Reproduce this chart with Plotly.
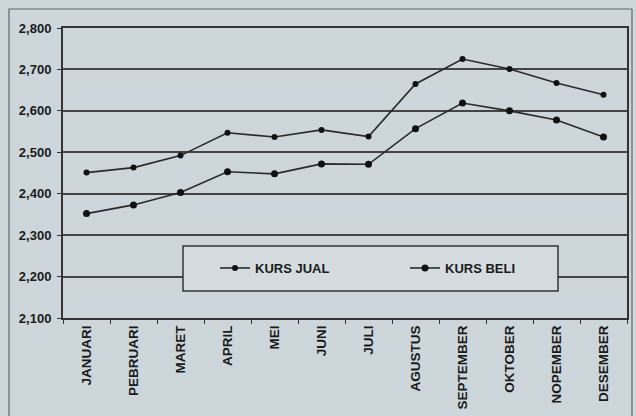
import plotly.graph_objects as go

months = ["JANUARI", "PEBRUARI", "MARET", "APRIL", "MEI", "JUNI", "JULI",
          "AGUSTUS", "SEPTEMBER", "OKTOBER", "NOPEMBER", "DESEMBER"]
kurs_jual = [2451, 2463, 2492, 2547, 2537, 2554, 2538, 2665, 2725, 2701, 2667, 2639]
kurs_beli = [2352, 2373, 2403, 2453, 2448, 2472, 2471, 2557, 2619, 2600, 2578, 2537]
y_ticks = [2100, 2200, 2300, 2400, 2500, 2600, 2700, 2800]

bg = "#cdd6db"
ink = "#2a2a2a"

W, H = 636, 416
L, R, T, B = 63, 9, 28, 98
pw, ph = W - L - R, H - T - B

def px(x):
    return (x - L) / pw

def py(y):
    return 1 - (y - T) / ph

fig = go.Figure()
fig.add_trace(go.Scatter(x=months, y=kurs_jual, name="KURS JUAL", mode="lines+markers",
                         line=dict(color=ink, width=1.6), legend="legend",
                         marker=dict(color="#111", size=6, symbol="circle")))
fig.add_trace(go.Scatter(x=months, y=kurs_beli, name="KURS BELI", mode="lines+markers",
                         line=dict(color=ink, width=1.6), legend="legend2",
                         marker=dict(color="#111", size=7, symbol="circle")))

# outer frame
fig.add_shape(type="rect", xref="paper", yref="paper",
              x0=px(9), x1=px(632), y0=py(420), y1=py(9),
              line=dict(color="#666", width=1.2), fillcolor="rgba(0,0,0,0)", layer="below")
# legend box
fig.add_shape(type="rect", xref="paper", yref="paper",
              x0=px(183), x1=px(558), y0=py(291), y1=py(246),
              line=dict(color="#333", width=1.5), fillcolor="#d4dce0", layer="above")

leg_common = dict(orientation="h", yanchor="middle", xanchor="left",
                  bgcolor="rgba(0,0,0,0)", itemwidth=30,
                  font=dict(size=13, family="Liberation Sans", weight="bold", color="#1a1a1a"))

fig.update_layout(
    width=W, height=H,
    margin=dict(l=L, r=R, t=T, b=B, pad=0),
    paper_bgcolor=bg, plot_bgcolor=bg,
    font=dict(family="Liberation Sans", size=12, color="#1a1a1a", weight="bold"),
    showlegend=True,
    legend=dict(x=px(215), y=py(268), **leg_common),
    legend2=dict(x=px(405), y=py(268), **leg_common),
    xaxis=dict(type="category", tickangle=-90, showgrid=False,
               showline=True, linecolor="#333", linewidth=2, mirror=True,
               ticks="outside", ticklen=4, tickson="boundaries", tickcolor="#333",
               tickfont=dict(size=13.5), range=[-0.5, 11.5], automargin=False),
    yaxis=dict(range=[2100, 2800], tickvals=y_ticks, tickformat=",",
               showgrid=True, gridcolor="#444", gridwidth=1.5,
               showline=True, linecolor="#333", linewidth=2, mirror=True,
               ticks="outside", ticklen=4, tickcolor="#333", ticklabelstandoff=3,
               tickfont=dict(size=13), automargin=False),
)

fig.write_html("out.html", config={"displayModeBar": False},
               post_script="document.body.style.margin='0';document.body.style.background='%s';" % bg)
